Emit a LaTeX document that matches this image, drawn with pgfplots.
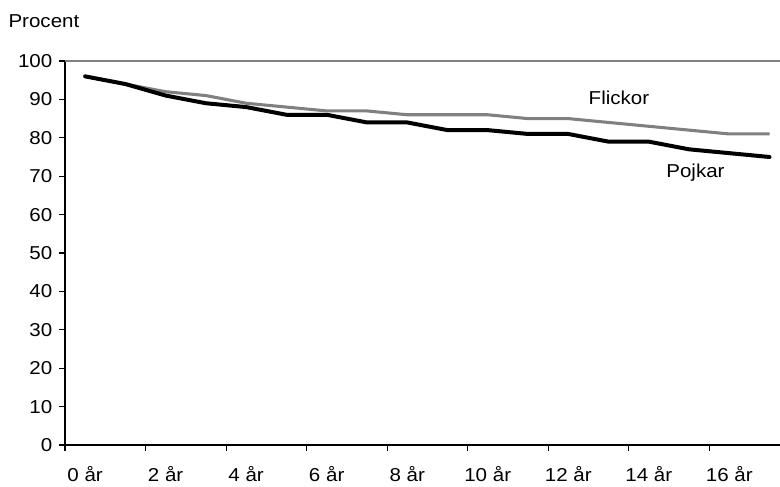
\documentclass[border=0pt]{standalone}
\usepackage{fontspec}
\setmainfont{Liberation Sans}[FakeStretch=1.1]
\usepackage{pgfplots}
\pgfplotsset{compat=1.18}
\definecolor{flick}{RGB}{128,128,128}
\newcommand{\lblfont}{\fontsize{14}{16}\selectfont}
\begin{document}
\begin{tikzpicture}[x=1pt,y=1pt,font=\lblfont]
\useasboundingbox (0,0) rectangle (585,364.5);
\begin{axis}[
  at={(48.75pt,30.75pt)}, anchor=south west,
  scale only axis, width=536.25pt, height=288pt,
  xmin=-0.5, xmax=17.26, ymin=0, ymax=100,
  axis x line*=bottom, axis y line*=left,
  axis line style={-, black, line width=1pt},
  ytick={0,10,...,100},
  /pgf/number format/assume math mode=true,
  tick label style={font=\lblfont},
  tick style={black, line width=0.8pt},
  tick align=outside, major tick length=4.5pt,
  xtick={-0.5,1.5,3.5,5.5,7.5,9.5,11.5,13.5,15.5},
  xticklabels={0 år,2 år,4 år,6 år,8 år,10 år,12 år,14 år,16 år},
  xticklabel style={xshift=15.09pt, yshift=-11.5pt, inner sep=0pt},
  yticklabel style={xshift=-1.5pt},
  clip=false,
]
\draw[flick, line width=1.2pt] (rel axis cs:0,1) -- (rel axis cs:1,1);
\addplot[flick, line width=2.3pt, line join=round] coordinates {
(0,96) (1,94) (2,92) (3,91) (4,89) (5,88) (6,87) (7,87) (8,86) (9,86)
(10,86) (11,85) (12,85) (13,84) (14,83) (15,82) (16,81) (17,81)};
\addplot[black, line width=3pt, line join=round, line cap=round] coordinates {
(0,96) (1,94) (2,91) (3,89) (4,88) (5,86) (6,86) (7,84) (8,84) (9,82)
(10,82) (11,81) (12,81) (13,79) (14,79) (15,77) (16,76) (17,75)};
\node[font=\lblfont] at (axis cs:13.26,90.4) {Flickor};
\node[font=\lblfont] at (axis cs:15.16,70.8) {Pojkar};
\end{axis}
\node[font=\lblfont, anchor=base west, inner sep=0pt] at (6.2,344) {Procent};
\end{tikzpicture}
\end{document}
